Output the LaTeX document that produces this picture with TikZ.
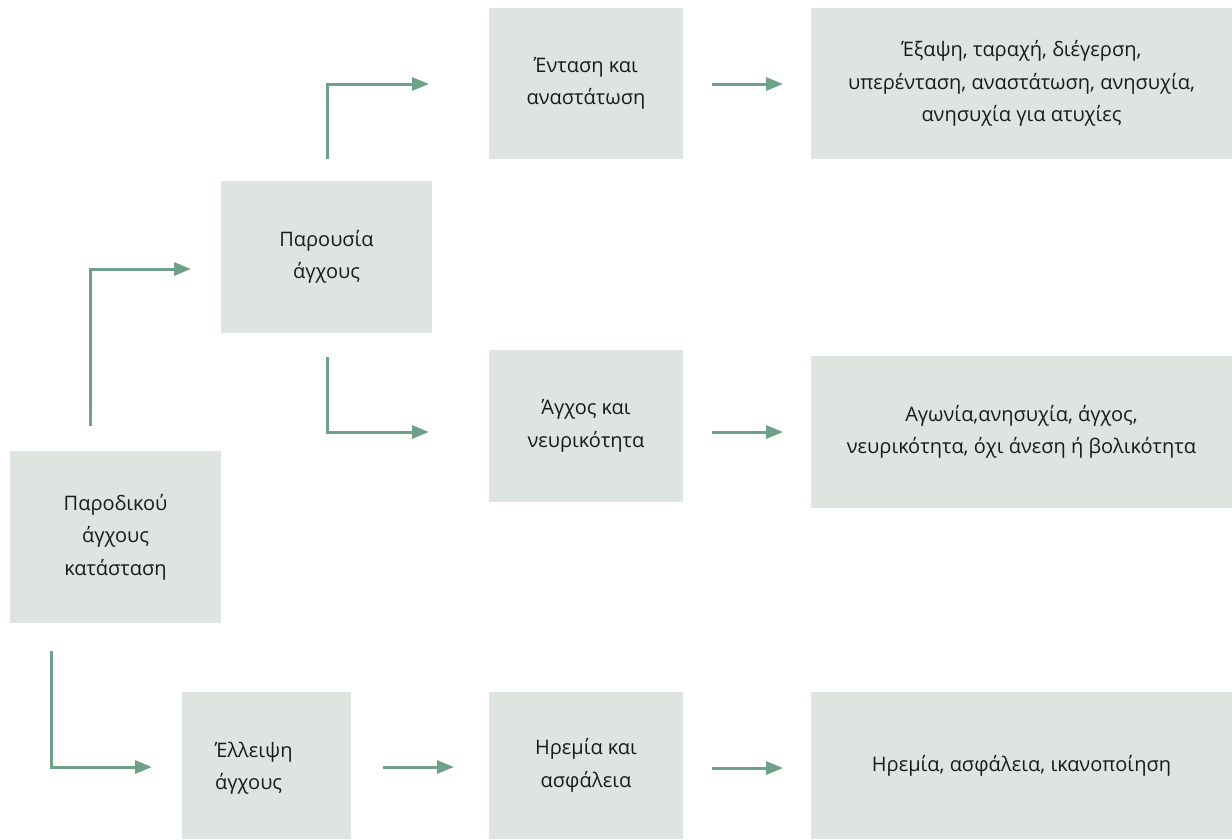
\documentclass[tikz,border=0pt]{standalone}
\usepackage{fontspec}
\setmainfont{Open Sans}
\usetikzlibrary{arrows.meta}
\definecolor{boxfill}{HTML}{DEE5E0}
\definecolor{arrowcol}{HTML}{6FA088}
\definecolor{txt}{HTML}{1A1A1A}
\begin{document}
\begin{tikzpicture}[x=1pt,y=-1pt,
  box/.style={fill=boxfill, draw=none, inner sep=0pt, text=txt, align=center,
    font=\fontsize{20}{32.5}\selectfont},
  conn/.style={draw=arrowcol, line width=3pt, -{Triangle[length=17pt,width=13pt]}},
  lbl/.style={text=txt, inner sep=0pt, font=\fontsize{20}{32.5}\selectfont}]
\useasboundingbox (0,0) rectangle (1232,839);
% boxes
\node[box, minimum width=211pt, minimum height=172pt] (b1) at (115.5,537) {Παροδικού\\άγχους\\κατάσταση};
\node[box, minimum width=211pt, minimum height=152pt] (b2) at (326.5,257) {Παρουσία\\άγχους};
\node[box, minimum width=194pt, minimum height=151pt] (b3) at (586,83.5) {Ένταση και\\αναστάτωση};
\node[box, minimum width=421pt, minimum height=151pt] (b4) at (1021.5,83.5) {Έξαψη, ταραχή, διέγερση,\\υπερένταση, αναστάτωση, ανησυχία,\\ανησυχία για ατυχίες};
\node[box, minimum width=194pt, minimum height=152pt] (b5) at (586,426) {Άγχος και\\νευρικότητα};
\node[box, minimum width=421pt, minimum height=152pt] (b6) at (1021.5,432) {Αγωνία,ανησυχία, άγχος,\\νευρικότητα, όχι άνεση ή βολικότητα};
\node[box, minimum width=169pt, minimum height=147pt] (b7) at (266.5,765.5) {};
\node[lbl, align=left, anchor=west] (t7) at (215,768) {Έλλειψη\\ άγχους};
\node[box, minimum width=194pt, minimum height=147pt] (b8) at (586,765.5) {Ηρεμία και\\ασφάλεια};
\node[box, minimum width=421pt, minimum height=147pt] (b9) at (1021.5,765.5) {Ηρεμία, ασφάλεια, ικανοποίηση};
% connector end points
\coordinate (s1) at (90,426);   \coordinate (e1) at (191,269);
\coordinate (s2) at (327,159);  \coordinate (e2) at (429,84);
\coordinate (s3) at (327,357);  \coordinate (e3) at (429,432);
\coordinate (s4) at (712,84);   \coordinate (e4) at (783,84);
\coordinate (s5) at (712,432);  \coordinate (e5) at (783,432);
\coordinate (s6) at (51,651);   \coordinate (e6) at (152,767);
\coordinate (s7) at (383,767);  \coordinate (e7) at (454,767);
\coordinate (s8) at (712,768);  \coordinate (e8) at (783,768);
% connectors
\draw[conn] (s1) |- (e1);
\draw[conn] (s2) |- (e2);
\draw[conn] (s3) |- (e3);
\draw[conn] (s4) -- (e4);
\draw[conn] (s5) -- (e5);
\draw[conn] (s6) |- (e6);
\draw[conn] (s7) -- (e7);
\draw[conn] (s8) -- (e8);
\end{tikzpicture}
\end{document}
